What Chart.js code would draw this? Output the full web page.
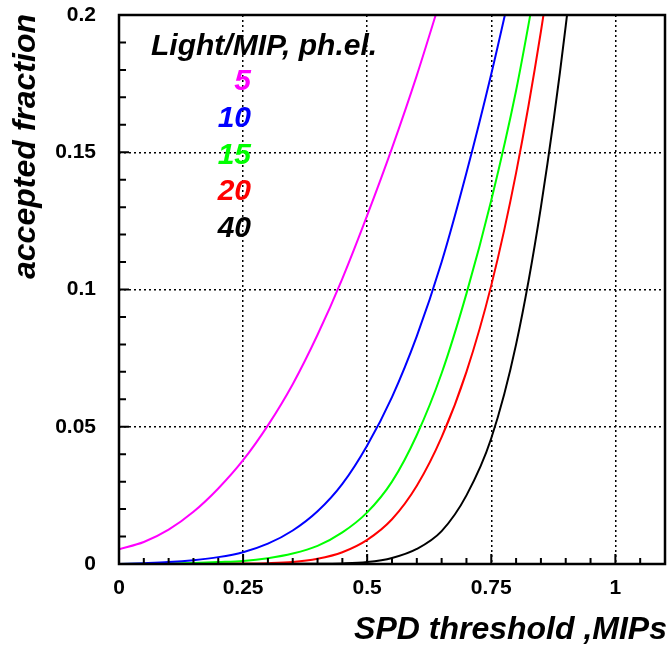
<!DOCTYPE html>
<html>
<head>
<meta charset="utf-8">
<script src="https://cdn.jsdelivr.net/npm/chart.js@4.4.0/dist/chart.umd.min.js"></script>
<style>
  html, body { margin: 0; padding: 0; background: #fff; }
  #wrap { width: 670px; height: 648px; }
</style>
</head>
<body>
<div id="wrap"><canvas id="chart" width="670" height="648"></canvas></div>
<script>
// SPD threshold values (MIPs)
const thresholds = [0, 0.05, 0.1, 0.15, 0.2, 0.25, 0.3, 0.35, 0.4, 0.45, 0.5, 0.55, 0.6, 0.65, 0.7, 0.75, 0.8, 0.85, 0.9, 0.95];

// accepted fraction per light yield (ph.el. / MIP)
const light5  = [0.0054, 0.0080, 0.0125, 0.0190, 0.0275, 0.0378, 0.0505, 0.0655, 0.0835, 0.1040, 0.1270, 0.1515, 0.1780, 0.2070];
const light10 = [0, 0.0003, 0.0007, 0.0014, 0.0025, 0.0043, 0.0074, 0.0122, 0.0192, 0.0292, 0.0432, 0.0608, 0.0830, 0.1100, 0.1425, 0.1785, 0.2180];
const light15 = [0, 0.0001, 0.0002, 0.0004, 0.0007, 0.0011, 0.0021, 0.0038, 0.0066, 0.0115, 0.0188, 0.0300, 0.0470, 0.0695, 0.0985, 0.1325, 0.1725, 0.2215];
const light20 = [0, 0, 0.0001, 0.0001, 0.0002, 0.0002, 0.0003, 0.0007, 0.0019, 0.0043, 0.0088, 0.0163, 0.0285, 0.0462, 0.0700, 0.1015, 0.1425, 0.1940, 0.2560];
const light40 = [0, 0, 0, 0, 0, 0, 0, 0.0001, 0.0001, 0.0002, 0.0007, 0.0022, 0.0055, 0.0120, 0.0250, 0.0458, 0.0800, 0.1300, 0.1960, 0.2800];

const seriesLabels = ['5', '10', '15', '20', '40'];
const seriesColors = ['#ff00ff', '#0000ff', '#00ff00', '#ff0000', '#000000'];
const seriesValues = [light5, light10, light15, light20, light40];

// Tick labels
const xTicks = [0, 0.25, 0.5, 0.75, 1];
const yTicks = [0, 0.05, 0.1, 0.15, 0.2];

const FONT = "'Liberation Sans', Arial, sans-serif";

function toPoints(values) {
    return values.map((v, i) => ({ x: thresholds[i], y: v }));
}

// Frame, inward ticks and text labels
const decorPlugin = {
    id: 'decor',
    afterDraw(chart) {
        const ctx = chart.ctx;
        const a = chart.chartArea;
        const xs = chart.scales.x;
        const ys = chart.scales.y;
        ctx.save();

        // inward tick marks
        ctx.strokeStyle = '#000';
        ctx.lineWidth = 2;
        ctx.beginPath();
        for (let k = 1; k < 22; k++) {
            const px = xs.getPixelForValue(k * 0.05);
            const len = (k % 5 === 0) ? 10 : 6;
            ctx.moveTo(px, a.bottom);
            ctx.lineTo(px, a.bottom - len);
        }
        for (let k = 1; k < 20; k++) {
            const py = ys.getPixelForValue(k * 0.01);
            const len = (k % 5 === 0) ? 10 : 7;
            ctx.moveTo(a.left, py);
            ctx.lineTo(a.left + len, py);
        }
        ctx.stroke();

        // frame
        ctx.lineWidth = 2.5;
        ctx.strokeRect(a.left, a.top, a.right - a.left, a.bottom - a.top);

        // axis titles
        ctx.fillStyle = '#000';
        ctx.font = 'italic bold 32px ' + FONT;
        ctx.textAlign = 'right';
        ctx.textBaseline = 'alphabetic';
        ctx.fillText('SPD threshold ,MIPs', 667, 639);

        ctx.save();
        ctx.translate(35, 14);
        ctx.rotate(-Math.PI / 2);
        ctx.fillText('accepted fraction', 0, 0);
        ctx.restore();

        // legend
        ctx.font = 'italic bold 30px ' + FONT;
        ctx.textAlign = 'left';
        ctx.fillText('Light/MIP, ph.el.', 151, 55);
        ctx.textAlign = 'right';
        seriesLabels.forEach((lab, i) => {
            ctx.fillStyle = seriesColors[i];
            ctx.fillText(lab, 251, 90 + i * 36.75);
        });

        ctx.restore();
    }
};

const gridStyle = {
    color: '#000',
    lineWidth: 1.5,
    drawTicks: false
};

new Chart(document.getElementById('chart'), {
    type: 'line',
    data: {
        datasets: seriesValues.map((vals, i) => ({
            label: seriesLabels[i],
            data: toPoints(vals),
            borderColor: seriesColors[i],
            borderWidth: 2,
            pointRadius: 0,
            fill: false,
            cubicInterpolationMode: 'monotone'
        }))
    },
    options: {
        responsive: false,
        animation: false,
        layout: { padding: { left: 0, top: 15, right: 5, bottom: 0 } },
        plugins: {
            legend: { display: false },
            tooltip: { enabled: false }
        },
        scales: {
            x: {
                type: 'linear',
                min: 0,
                max: 1.1,
                afterBuildTicks: (s) => { s.ticks = xTicks.map(v => ({ value: v })); },
                afterFit: (s) => { s.height = 84; s.paddingLeft = 0; s.paddingRight = 0; },
                grid: gridStyle,
                border: { display: false, dash: [2, 3] },
                ticks: {
                    color: '#000',
                    padding: 12,
                    maxRotation: 0,
                    font: { family: FONT, size: 21, weight: 'bold' },
                    callback: (v) => String(v)
                }
            },
            y: {
                type: 'linear',
                min: 0,
                max: 0.2,
                afterBuildTicks: (s) => { s.ticks = yTicks.map(v => ({ value: v })); },
                afterFit: (s) => { s.width = 119; s.paddingTop = 0; s.paddingBottom = 0; },
                grid: gridStyle,
                border: { display: false, dash: [2, 3] },
                ticks: {
                    color: '#000',
                    padding: 23,
                    font: { family: FONT, size: 21, weight: 'bold' },
                    callback: (v) => String(v)
                }
            }
        }
    },
    plugins: [decorPlugin]
});
</script>
</body>
</html>
